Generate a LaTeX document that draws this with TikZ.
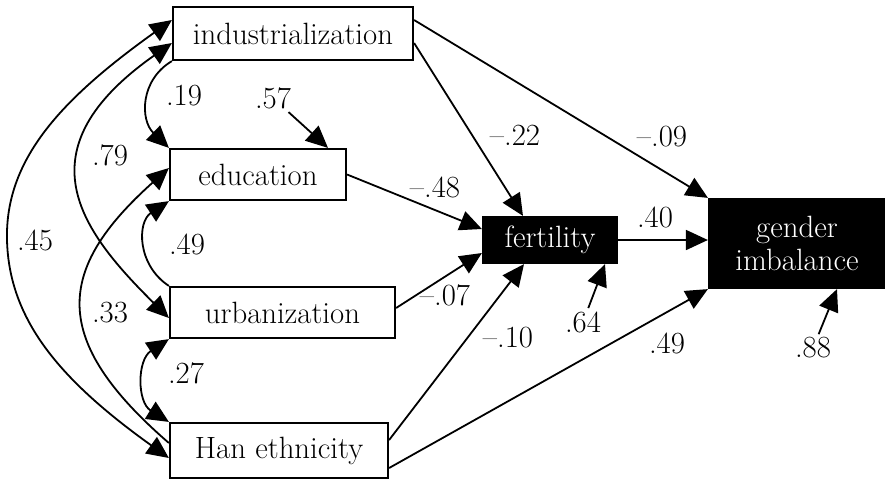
\documentclass[tikz,border=0pt]{standalone}
\usetikzlibrary{arrows.meta}

\tikzset{
  var/.style={draw, line width=1.1pt, inner sep=0pt, align=center},
  outcome/.style={var, fill=black, text=white},
  resid/.style={inner sep=1.5pt},
  eff/.style={-{Triangle[length=11pt,width=10pt]}, line width=0.9pt},
  cov/.style={{Triangle[length=11pt,width=10pt]}-{Triangle[length=11pt,width=10pt]}, line width=0.9pt}
}

\begin{document}
\begin{tikzpicture}[x=0.5pt, y=-0.5pt, every node/.style={font=\fontsize{15.4}{16.5}\selectfont}] % pixel grid, y pointing down

  \useasboundingbox (0,0) rectangle (885,479);

  % Exogenous variables
  \node[var, minimum width=120pt, minimum height=26.5pt] (indus) at (293,33.5) {industrialization};
  \node[var, minimum width=88pt, minimum height=25.5pt] (edu) at (258,174.5) {education};
  \node[var, minimum width=112.5pt, minimum height=25.5pt] (urban) at (282.5,312.5) {urbanization};
  \node[var, minimum width=109pt, minimum height=27.5pt] (han) at (279,450.5) {Han ethnicity};

  % Endogenous variables
  \node[outcome, minimum width=67pt, minimum height=23pt] (fert) at (550,240) {fertility};
  \node[outcome, minimum width=88pt, minimum height=44.5pt] (gender) at (797,243.5) {gender\\imbalance};

  % Direct effects
  \draw[eff] ([yshift=6.75pt]indus.east) -- (gender.north west);
  \draw[eff] ([yshift=-4.75pt]indus.east) -- ([xshift=-13.5pt]fert.north);
  \draw[eff] (edu.east) -- ([yshift=5.5pt]fert.west);
  \draw[eff] ([yshift=2.25pt]urban.east) -- ([yshift=-6.5pt]fert.west);
  \draw[eff] ([yshift=5.25pt]han.east) -- ([xshift=-13pt]fert.south);
  \draw[eff] ([yshift=-8.75pt]han.east) -- (gender.south west);
  \draw[eff] (fert.east) -- (fert.east -| gender.west);

  \node (b1) at (662,137) {--.09};
  \node (b2) at (515,135) {--.22};
  \node (b3) at (435,187) {--.48};
  \node (b4) at (445,295) {--.07};
  \node (b5) at (508,338) {--.10};
  \node (b6) at (667,343) {.49};
  \node (b7) at (655,217) {.40};

  % Residuals
  \node[resid] (r57) at (273,98) {.57};
  \node[resid] (r64) at (583,322) {.64};
  \node[resid] (r88) at (813,348) {.88};
  \draw[eff] (r57) -- ([xshift=35pt]edu.north);
  \draw[eff] (r64) -- ([xshift=27.5pt]fert.south);
  \draw[eff] (r88) -- ([xshift=20pt]gender.south);

  % Correlations among the exogenous variables
  \draw[eff] (indus.south west) .. controls (140,80) and (140,120) .. (edu.north west);
  \draw[eff] (urban.north west) .. controls (137,265) and (137,222) .. (edu.south west);
  \draw[cov] (urban.south west) .. controls (137,360) and (137,402) .. (han.north west);
  \draw[cov] ([yshift=-4.75pt]indus.west) .. controls (20,150) and (80,230) .. ([yshift=-2.75pt]urban.west);
  \draw[eff] ([yshift=3.75pt]han.west) .. controls (50,340) and (55,270) .. ([yshift=3.25pt]edu.west);
  \draw[cov] ([yshift=-3.75pt]han.west) .. controls (60,380) and (9,320) .. (7,240)
    .. controls (5,160) and (60,100) .. ([yshift=6.75pt]indus.west);

  \node (c1) at (184,96) {.19};
  \node (c2) at (110,155) {.79};
  \node (c3) at (35,240) {.45};
  \node (c4) at (187,244) {.49};
  \node (c5) at (110,313) {.33};
  \node (c6) at (186,373) {.27};

\end{tikzpicture}
\end{document}
